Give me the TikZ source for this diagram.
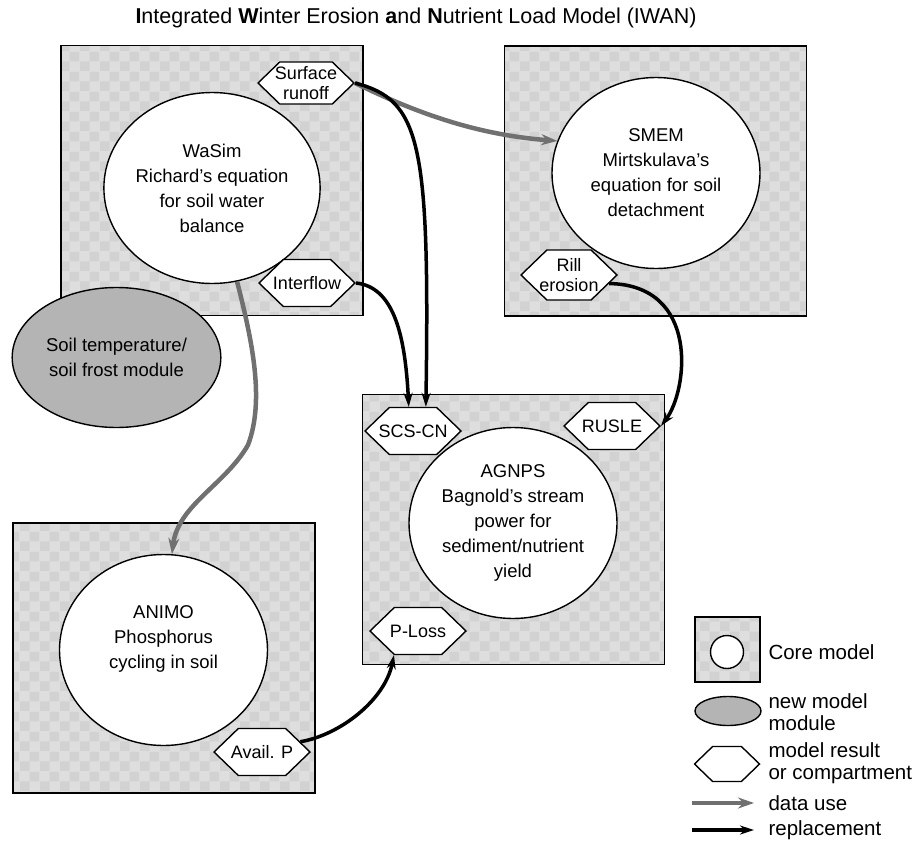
\documentclass[tikz,border=0pt]{standalone}
\usepackage{fontspec}
\setmainfont{Liberation Sans}
\usepackage{tikz}
\usetikzlibrary{shapes.geometric,shapes.symbols,arrows.meta,patterns}
\definecolor{boxgray}{HTML}{DEDEDE}
\definecolor{checkgray}{HTML}{D2D2D2}
\definecolor{modulegray}{HTML}{B4B4B4}
\definecolor{datagray}{HTML}{707070}
\pgfdeclarepatternformonly{cells}{\pgfpointorigin}{\pgfpoint{20pt}{20pt}}{\pgfpoint{20pt}{20pt}}{%
  \pgfpathrectangle{\pgfpointorigin}{\pgfpoint{10pt}{10pt}}%
  \pgfpathrectangle{\pgfpoint{10pt}{10pt}}{\pgfpoint{10pt}{10pt}}%
  \pgfusepath{fill}}

\begin{document}
\begin{tikzpicture}[
    x=1pt, y=-1pt,
    font=\fontsize{18.5}{25}\selectfont,
    core/.style={rectangle, draw, line width=1.6pt, 
                 preaction={fill=boxgray}, 
                 pattern=cells, pattern color=checkgray,
                 minimum width=302pt, 
                 minimum height=270pt},
    model/.style={ellipse, draw, line width=1.4pt, fill=white, 
                  align=center, inner sep=0pt,
                  minimum width=208pt, minimum height=191pt},
    module/.style={ellipse, draw, line width=1.4pt, fill=modulegray, 
                   align=center, 
                   minimum width=207pt, minimum height=140pt},
    result/.style={signal, signal to=east and west, signal pointer angle=88,
                   draw, line width=1.4pt, fill=white, 
                   align=center, inner xsep=-12pt, inner ysep=0pt,
                   font=\fontsize{18}{19.5}\selectfont,
                   minimum width=96pt, minimum height=47pt},
    datause/.style={draw=datagray, line width=4.5pt, -{Stealth[length=16pt,width=11pt]}},
    replace/.style={draw=black, line width=3.5pt, -{Stealth[length=14pt,width=9pt]}},
    legtext/.style={anchor=west, align=left, font=\fontsize{20.5}{22}\selectfont}
]
\useasboundingbox (0,0) rectangle (918,851);

\node[font=\fontsize{21.5}{24}\selectfont] (title) at (416,18) {\textbf{I}ntegrated \textbf{W}inter Erosion \textbf{a}nd \textbf{N}utrient Load Model (IWAN)};

% core models
\node[core] (wasimbox) at (212,180.5) {};
\node[core] (smembox) at (655.5,181) {};
\node[core] (agnpsbox) at (513.5,529.5) {};
\node[core] (animobox) at (164,658) {};

\node[model] (wasim) at (212,188) {WaSim\\Richard’s equation\\for soil water\\balance};
\node[model] (smem) at (656,173) {SMEM\\Mirtskulava’s\\equation for soil\\detachment};
\node[model] (agnps) at (513,523) {AGNPS\\Bagnold’s stream\\power for\\sediment/nutrient\\yield};
\node[model] (animo) at (163.5,650) {ANIMO\\Phosphorus\\cycling in soil\\\mbox{}};

\node[module] (soil) at (116.5,357.5) {Soil temperature/\\soil frost module};

% results
\node[result, minimum height=42pt] (surf) at (306,83) {Surface\\runoff};
\node[result] (inter) at (307,283) {Interflow};
\node[result, minimum height=50pt] (rill) at (569,275) {Rill\\erosion};
\node[result] (scs) at (413,431) {SCS-CN};
\node[result] (rusle) at (612,426) {RUSLE};
\node[result] (ploss) at (418,631) {P-Loss};
\node[result] (avail) at (262,752) {Avail. P};

% connections
\draw[datause] (surf.east) .. controls (420,115) and (480,135) .. (smem.162);
\draw[datause] (wasim.285) .. controls (252,340) and (265,400) .. (248,445)
    .. controls (225,485) and (178,505) .. (animo.85);
\draw[replace] (surf.east) .. controls (420,100) and (430,140) .. (scs.62);
\draw[replace] (inter.east) .. controls (392,287) and (405,330) .. (scs.100);
\draw[replace] (rill.-12) .. controls (700,285) and (688,390) .. (rusle.east);
\draw[replace] (avail.15) .. controls (340,735) and (385,700) .. (ploss.225);

% legend
\node[core, minimum width=65pt, minimum height=65pt] (legbox) at (727.5,649.5) {};
\node[model, minimum width=33pt, minimum height=33pt] (legcirc) at (727,652) {};
\node[legtext] (legcore) at (765,652) {Core model};
\node[module, minimum width=66pt, minimum height=29pt] (legmod) at (728,711) {};
\node[legtext] (legnew) at (765,712) {new model\\module};
\node[result, minimum width=65pt, minimum height=35pt, inner sep=0pt] (leghex) at (727,764) {};
\node[legtext] (legres) at (765,763.5) {model result\\or compartment};
\coordinate (du1) at (692,803);
\coordinate (du2) at (754,803);
\coordinate (rp1) at (692,830);
\coordinate (rp2) at (754,830);
\draw[datause] (du1) -- (du2);
\draw[replace] (rp1) -- (rp2);
\node[legtext] (legdata) at (765,803) {data use};
\node[legtext] (legrepl) at (765,830) {replacement};
\end{tikzpicture}
\end{document}
